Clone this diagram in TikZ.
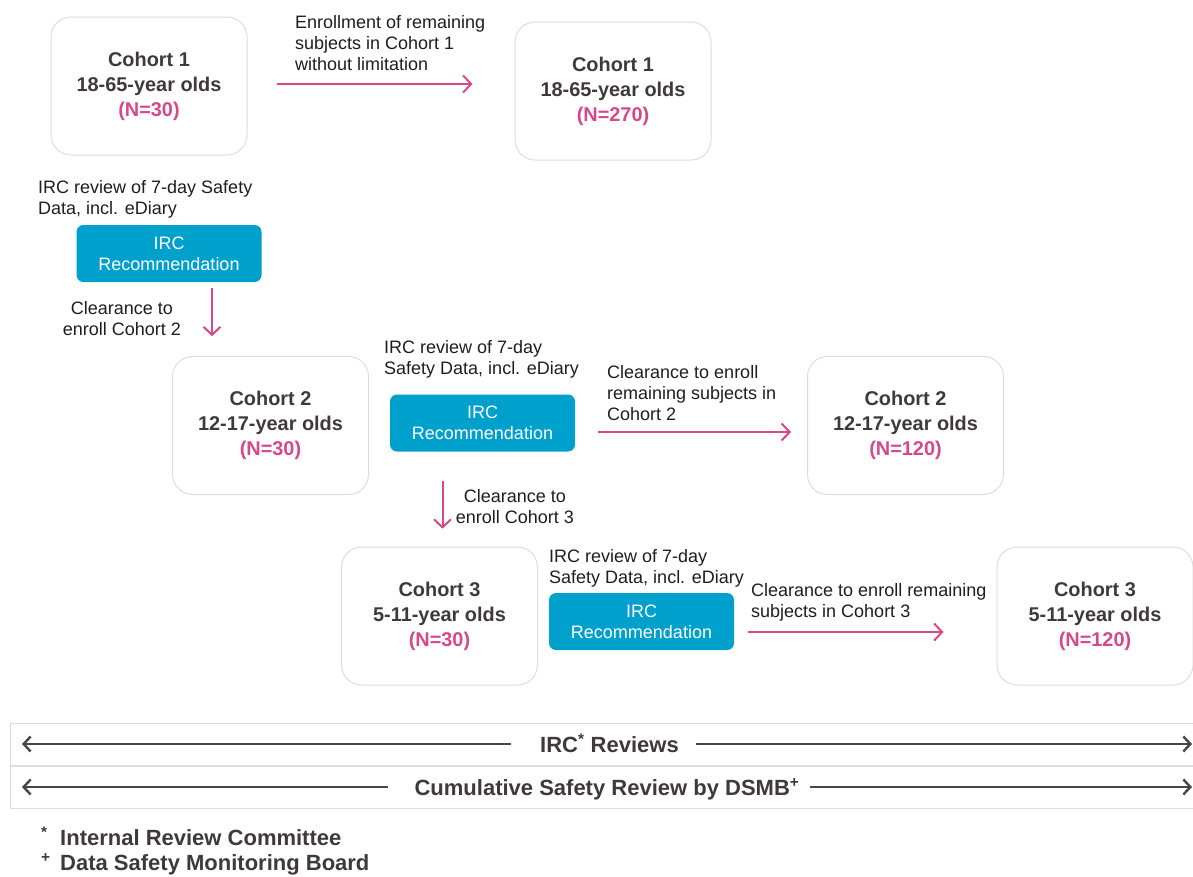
\documentclass[tikz,border=0pt]{standalone}
\usepackage{fontspec}
\setmainfont{Liberation Sans}
\usetikzlibrary{positioning,arrows.meta}
\definecolor{txtdark}{RGB}{64,57,59}
\definecolor{notetxt}{RGB}{30,30,30}
\definecolor{pinkc}{RGB}{214,72,138}
\definecolor{irccyan}{RGB}{0,160,204}
\definecolor{boxgray}{RGB}{221,221,221}
\definecolor{bargray}{RGB}{74,68,70}
\newcommand{\bodyfont}{\fontsize{18}{21}\selectfont}
\newcommand{\headfont}{\fontsize{19.9}{25}\selectfont\bfseries}
\newcommand{\barfont}{\fontsize{22}{27}\selectfont\bfseries}
\tikzset{
	cohort/.style={draw=boxgray, line width=1pt, rounded corners=20pt, minimum width=196pt, minimum height=138pt, align=center, font=\headfont, text=txtdark},
	ircbox/.style={fill=irccyan, rounded corners=7pt, minimum width=185pt, minimum height=57pt, align=center, font=\bodyfont, text=white, inner sep=0pt},
	note/.style={font=\bodyfont, text=notetxt, inner sep=0pt},
	flow/.style={draw=pinkc, line width=2pt, -{Straight Barb[length=8pt,width=17pt]}},
	barbox/.style={draw=boxgray, line width=1.2pt, minimum height=42pt, minimum width=1195pt, anchor=north west, inner sep=0pt},
	barline/.style={draw=bargray, line width=2.4pt, -{Straight Barb[length=7pt,width=15pt]}},
	barlabel/.style={font=\barfont, text=txtdark, inner sep=0pt}
}
\begin{document}
\begin{tikzpicture}[x=1pt,y=-1pt]
	\useasboundingbox (0,0) rectangle (1193,876);
	
	\node[cohort] (C1) at (149,86) {Cohort 1\\18-65-year olds\\\textcolor{pinkc}{(N=30)}};
	\node[cohort] (C1all) at (613,91) {Cohort 1\\18-65-year olds\\\textcolor{pinkc}{(N=270)}};
	\node[cohort] (C2) at (270.5,425.5) {Cohort 2\\12-17-year olds\\\textcolor{pinkc}{(N=30)}};
	\node[cohort] (C2all) at (905.5,425.5) {Cohort 2\\12-17-year olds\\\textcolor{pinkc}{(N=120)}};
	\node[cohort] (C3) at (439.5,616) {Cohort 3\\5-11-year olds\\\textcolor{pinkc}{(N=30)}};
	\node[cohort] (C3all) at (1095,616) {Cohort 3\\5-11-year olds\\\textcolor{pinkc}{(N=120)}};
	
	\node[ircbox] (R1) at (169,253.5) {IRC\\Recommendation};
	\node[ircbox] (R2) at (482.5,423) {IRC\\Recommendation};
	\node[ircbox] (R3) at (641.5,621.5) {IRC\\Recommendation};
	
	\node[note, align=left, anchor=north west] (N1) at (295,15) {Enrollment of remaining\\subjects in Cohort 1\\without limitation};
	\node[note, align=left, anchor=north west] (N2) at (38,180) {IRC review of 7-day Safety\\Data, incl. eDiary};
	\node[note, align=center, anchor=north] (N3) at (122,301) {Clearance to\\enroll Cohort 2};
	\node[note, align=left, anchor=north west] (N4) at (384,340) {IRC review of 7-day\\Safety Data, incl. eDiary};
	\node[note, align=left, anchor=north west] (N5) at (607,365) {Clearance to enroll\\remaining subjects in\\Cohort 2};
	\node[note, align=center, anchor=north] (N6) at (515,489) {Clearance to\\enroll Cohort 3};
	\node[note, align=left, anchor=north west] (N7) at (549,549) {IRC review of 7-day\\Safety Data, incl. eDiary};
	\node[note, align=left, anchor=north west] (N8) at (751,583) {Clearance to enroll remaining\\subjects in Cohort 3};
	
	\draw[flow, shorten <=29pt, shorten >=42pt] ([yshift=2pt]C1.east) -- ([yshift=2pt]C1.east -| C1all.west);
	\draw[flow] ([xshift=43pt]R1.south) ++(0,6) -- ++(0,48);
	\draw[flow, shorten <=23pt, shorten >=16pt] ([yshift=-9pt]R2.east) -- ([yshift=-9pt]R2.east -| C2all.west);
	\draw[flow] ([xshift=-40pt]R2.south) ++(0,29) -- ++(0,48);
	\draw[flow, shorten <=14pt, shorten >=53pt] ([yshift=-10.5pt]R3.east) -- ([yshift=-10.5pt]R3.east -| C3all.west);
	
	\node[barbox] (bar1) at (10,723) {};
	\node[barbox] (bar2) at (10,766) {};
	\node[barlabel, anchor=base] (L1) at (609.5,752) {IRC\textsuperscript{*} Reviews};
	\node[barlabel, anchor=base] (L2) at (607,795) {Cumulative Safety Review by DSMB\textsuperscript{+}};
	\coordinate (B1l) at (22,744);
	\coordinate (B1r) at (1192,744);
	\coordinate (B2l) at (22,787);
	\coordinate (B2r) at (1192,787);
	\draw[barline, shorten <=29pt] ([yshift=8pt]L1.base west) -- ([yshift=8pt]L1.base west -| B1l);
	\draw[barline, shorten <=17pt] ([yshift=8pt]L1.base east) -- ([yshift=8pt]L1.base east -| B1r);
	\draw[barline, shorten <=26pt] ([yshift=8pt]L2.base west) -- ([yshift=8pt]L2.base west -| B2l);
	\draw[barline, shorten <=10pt] ([yshift=8pt]L2.base east) -- ([yshift=8pt]L2.base east -| B2r);
	
	\node[barlabel, anchor=base west] (F1) at (41,845) {\makebox[19pt][l]{\textsuperscript{*}}Internal Review Committee};
	\node[barlabel, anchor=base west] (F2) at (41,870) {\makebox[19pt][l]{\textsuperscript{+}}Data Safety Monitoring Board};
	
\end{tikzpicture}
\end{document}
